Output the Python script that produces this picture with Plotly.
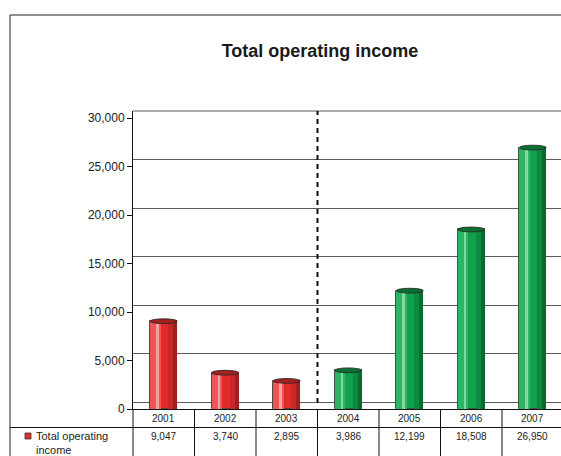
import plotly.graph_objects as go

# ---- data ----
years = ["2001", "2002", "2003", "2004", "2005", "2006", "2007"]
income = [9047, 3740, 2895, 3986, 12199, 18508, 26950]
value_labels = ["9,047", "3,740", "2,895", "3,986", "12,199", "18,508", "26,950"]
y_ticks = [0, 5000, 10000, 15000, 20000, 25000, 30000]
series_name = "Total operating<br>income"

# ---- styles ----
W, H = 561, 456
ML, MT, MB = 133, 111, 47
PW, PH = W - ML, H - MT - MB
CAT_PX = 61.5
X0 = -0.5
X1 = X0 + PW / CAT_PX
Y_TOP = 30722
Y_SHIFT = 720  # back-wall offset of gridlines

n = len(years)
xs = list(range(n))
is_red = [i < 3 for i in xs]

def pick(red, green):
    return [red if r else green for r in is_red]

BW = 0.44
bands = [  # (start fraction, end fraction, red colour, green colour)
    (0.0, 1.0, "#E32A2B", "#11A04B"),
    (0.0, 0.38, "#EE5656", "#2BB564"),
    (0.24, 0.31, "#F6A2A2", "#84D8A4"),
    (0.66, 1.0, "#C92828", "#0D8A3F"),
    (0.86, 1.0, "#9E1F1F", "#0A6B31"),
]

fig = go.Figure()

# invisible trace for the gridline (back wall) axis
fig.add_trace(go.Scatter(x=[X0], y=[0], yaxis="y2", mode="markers",
                         marker=dict(opacity=0), showlegend=False, hoverinfo="skip"))

for k, (a, b, rc, gc) in enumerate(bands):
    fig.add_trace(go.Bar(
        x=xs, y=income,
        width=[BW * (b - a)] * n,
        offset=[-BW / 2 + BW * a] * n,
        marker=dict(color=pick(rc, gc),
                    line=dict(color="#3A3A3A" if k == 0 else "rgba(0,0,0,0)",
                              width=0.9 if k == 0 else 0)),
        showlegend=False, hoverinfo="skip",
    ))

def py_to_paper(py):
    return (H - MB - py) / PH

def px_to_paper(px):
    return (px - ML) / PW

def xdata_to_paper(xv):
    return (xv - X0) / (X1 - X0)

shapes = []
# top ellipses of cylinders
half_h = 2.4 / (PH / Y_TOP)
top_cols = pick("#A81F20", "#0A6F33")
for i, v in enumerate(income):
    shapes.append(dict(type="circle", xref="x", yref="y",
                       x0=i - BW / 2, x1=i + BW / 2, y0=v - half_h, y1=v + half_h,
                       fillcolor=top_cols[i], line=dict(color="#2A2A2A", width=0.9)))

# top edge of the back wall
shapes.append(dict(type="line", xref="paper", yref="paper", x0=0, x1=1, y0=1, y1=1,
                   line=dict(color="#5A5A5A", width=1), layer="below"))

# dashed divider between 2003 and 2004
shapes.append(dict(type="line", xref="x", yref="paper", x0=2.5, x1=2.5,
                   y0=py_to_paper(403), y1=1,
                   line=dict(color="#111111", width=2, dash="5px,4px")))

# table grid
table_bottom = py_to_paper(H + 2)
row_line = py_to_paper(427.5)
shapes.append(dict(type="line", xref="paper", yref="paper",
                   x0=px_to_paper(10), x1=1.0, y0=row_line, y1=row_line,
                   line=dict(color="#111111", width=1)))
shapes.append(dict(type="line", xref="paper", yref="paper",
                   x0=0, x1=0, y0=0, y1=table_bottom,
                   line=dict(color="#111111", width=1)))
for i in range(n - 1):
    xp = xdata_to_paper(i + 0.5)
    shapes.append(dict(type="line", xref="paper", yref="paper",
                       x0=xp, x1=xp, y0=0, y1=table_bottom,
                       line=dict(color="#111111", width=1)))

# outer chart frame
shapes.append(dict(type="line", xref="paper", yref="paper",
                   x0=px_to_paper(10), x1=px_to_paper(10),
                   y0=py_to_paper(15), y1=table_bottom,
                   line=dict(color="#222222", width=1)))
shapes.append(dict(type="line", xref="paper", yref="paper",
                   x0=px_to_paper(10), x1=1.02,
                   y0=py_to_paper(15), y1=py_to_paper(15),
                   line=dict(color="#222222", width=1)))

# legend key
shapes.append(dict(type="rect", xref="paper", yref="paper",
                   x0=px_to_paper(25), x1=px_to_paper(31),
                   y0=py_to_paper(439), y1=py_to_paper(433),
                   fillcolor="#E32A2B", line=dict(color="#333333", width=0.8)))

annotations = []
for i, yr in enumerate(years):
    annotations.append(dict(x=i, y=py_to_paper(418.5), xref="x", yref="paper",
                            text=yr, showarrow=False,
                            font=dict(size=10, color="#222222"),
                            xanchor="center", yanchor="middle"))
    annotations.append(dict(x=i, y=py_to_paper(436), xref="x", yref="paper",
                            text=value_labels[i], showarrow=False,
                            font=dict(size=10, color="#222222"),
                            xanchor="center", yanchor="middle"))
annotations.append(dict(x=px_to_paper(35), y=py_to_paper(428.5), xref="paper", yref="paper",
                        text=series_name, showarrow=False, align="left",
                        font=dict(size=11, color="#222222"),
                        xanchor="left", yanchor="top", borderpad=0))

fig.update_layout(
    width=W, height=H,
    margin=dict(l=ML, r=0, t=MT, b=MB, pad=0),
    paper_bgcolor="white", plot_bgcolor="white",
    font=dict(family="Liberation Sans, Arial, sans-serif", color="#222222"),
    title=dict(text="<b>Total operating income</b>", x=320 / W, xref="container",
               xanchor="center", y=1 - 51 / H, yanchor="middle",
               font=dict(size=18, color="#1A1A1A")),
    barmode="overlay",
    bargap=0,
    showlegend=False,
    xaxis=dict(range=[X0, X1], showticklabels=False, ticks="", showgrid=False,
               zeroline=False, showline=True, linecolor="#111111", linewidth=1,
               fixedrange=True),
    yaxis=dict(range=[0, Y_TOP], tickvals=y_ticks, tickformat=",",
               ticks="outside", ticklen=5, tickcolor="#111111",
               showgrid=False, zeroline=False, showline=True,
               linecolor="#111111", linewidth=1,
               tickfont=dict(size=12, color="#222222")),
    yaxis2=dict(range=[-Y_SHIFT, Y_TOP - Y_SHIFT], overlaying="y", side="left",
                tickvals=y_ticks, showticklabels=False, ticks="",
                showgrid=True, gridcolor="#5A5A5A", gridwidth=1,
                zeroline=False, showline=False),
    shapes=shapes,
    annotations=annotations,
)

fig.write_html("out.html", config={"displayModeBar": False},
               post_script="document.body.style.margin='0';document.body.style.overflow='hidden';")
